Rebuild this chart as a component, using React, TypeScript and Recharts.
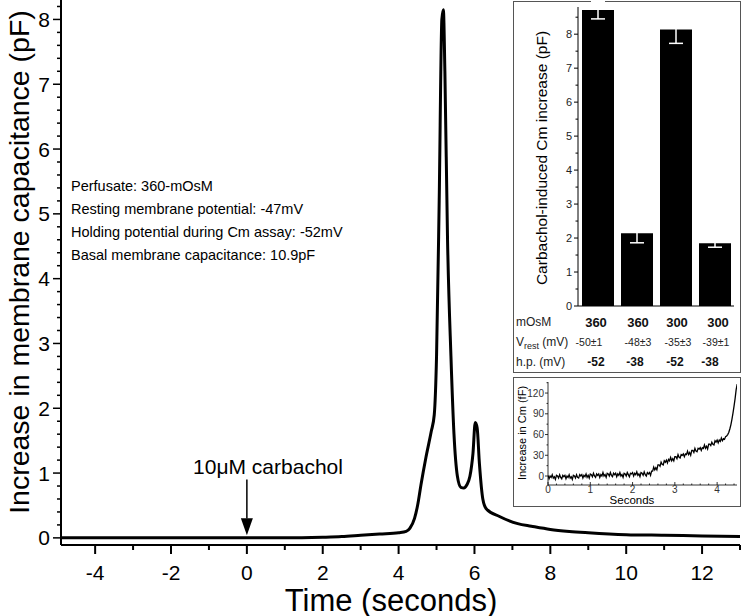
import { LineChart, Line, XAxis, YAxis, ReferenceLine, ReferenceDot, BarChart, Bar, ErrorBar } from 'recharts';

const FONT = 'Arial, "Liberation Sans", Helvetica, sans-serif';

// main trace: time (s) vs increase in membrane capacitance (pF)
const traceTime = [-4.9, -4, -3, -2, -1, 0, 1, 2, 2.5, 3, 3.5, 4, 4.2, 4.3, 4.42, 4.5, 4.59, 4.72, 4.86, 4.94, 5.0, 5.07, 5.14, 5.18, 5.22, 5.29, 5.38, 5.46, 5.55, 5.64, 5.72, 5.8, 5.88, 5.96, 6.02, 6.07, 6.13, 6.22, 6.31, 6.66, 7.14, 7.5, 8, 8.5, 9, 10, 11, 12, 13];
const traceCm = [0, 0, 0, 0, 0, 0, 0, 0.01, 0.02, 0.04, 0.06, 0.08, 0.1, 0.15, 0.3, 0.5, 0.82, 1.24, 1.64, 1.9, 2.8, 5.2, 8.0, 8.15, 7.2, 4.6, 2.8, 1.6, 0.95, 0.78, 0.77, 0.82, 0.95, 1.3, 1.78, 1.7, 1.15, 0.6, 0.45, 0.33, 0.22, 0.18, 0.13, 0.1, 0.08, 0.05, 0.04, 0.03, 0.02];

const mainXTicks = [-4, -3, -2, -1, 0, 1, 2, 3, 4, 5, 6, 7, 8, 9, 10, 11, 12, 13];
const mainYTicks = [0, 0.2, 0.4, 0.6, 0.8, 1, 1.2, 1.4, 1.6, 1.8, 2, 2.2, 2.4, 2.6, 2.8, 3, 3.2, 3.4, 3.6, 3.8, 4, 4.2, 4.4, 4.6, 4.8, 5, 5.2, 5.4, 5.6, 5.8, 6, 6.2, 6.4, 6.6, 6.8, 7, 7.2, 7.4, 7.6, 7.8, 8, 8.2];

const infoLines = [
  'Perfusate: 360-mOsM',
  'Resting membrane potential: -47mV',
  'Holding potential during Cm assay: -52mV',
  'Basal membrane capacitance: 10.9pF',
];

// inset bar chart
const barGroups = ['360/-52', '360/-38', '300/-52', '300/-38'];
const barValues = [8.71, 2.14, 8.14, 1.85];
const barErrors = [0.26, 0.28, 0.41, 0.12];
const osmLabels = ['360', '360', '300', '300'];
const vrestLabels = ['-50\u00b11', '-48\u00b13', '-35\u00b13', '-39\u00b11'];
const hpLabels = ['-52', '-38', '-52', '-38'];
const barYTicks = [0, 0.5, 1, 1.5, 2, 2.5, 3, 3.5, 4, 4.5, 5, 5.5, 6, 6.5, 7, 7.5, 8, 8.5];

// inset trace: first seconds after carbachol, fF
const insetStep = 0.025;
const insetCm = [
  1, -4, 0, -2, 2, -3, -1, -5, 1, 0, -3, 2, -2, -4, 1, -1, 1, -4, 0, -2, 2, -3, -1, -5, 1, 0, -3, 2, -2,
  -3, 2, 0, 2, -3, 1, -1, 3, -2, 1, -3, 3, 2, -1, 4, 0, -2, 3, 1, 3, -2, 2, 0, 5, 0, 2, -2, 4, 3, 0, 5, 1,
  -1, 4, 2, 4, -1, 3, 1, 5, 0, 2, -2, 4, 3, 0, 5, 2, -1, 4, 3, 5, 0, 4, 2, 6, 1, 3, -1, 5, 4, 1, 6, 2, 0, 5, 3, 5,
  1, 7, 7, 13, 9, 12, 9, 16, 16, 14, 20, 17, 16, 22, 20, 23, 19, 24, 22, 27, 22, 25, 22, 28,
  28, 25, 31, 27, 26, 31, 30, 32,
  28, 32, 31, 36, 31, 34, 30, 37,
  37, 34, 40, 36, 35, 40, 39, 41,
  37, 41, 40, 45, 40, 43, 39, 46,
  46, 44, 49, 46, 45, 51, 49, 52,
  48, 52, 50, 55, 51, 54, 53, 57, 58,
  60, 63, 68, 74, 82, 91, 101, 112, 125, 133,
];
const insetXTicks = [0, 0.2, 0.4, 0.6, 0.8, 1, 1.2, 1.4, 1.6, 1.8, 2, 2.2, 2.4, 2.6, 2.8, 3, 3.2, 3.4, 3.6, 3.8, 4, 4.2, 4.4];
const insetYTicks = [0, 15, 30, 45, 60, 75, 90, 105, 120, 135];

const traceData = traceTime.map((t, i) => ({ t, cm: traceCm[i] }));
const barData = barGroups.map((g, i) => ({ group: g, value: barValues[i], err: barErrors[i] }));
const insetData = insetCm.map((v, i) => ({ t: i * insetStep, v }));

const isWhole = (v: number) => Math.abs(v - Math.round(v)) < 1e-6;

const MainXTick = (p: any) => {
  const major = isWhole(p.payload.value / 2);
  return (
    <g>
      <line x1={p.x} x2={p.x} y1={p.y} y2={p.y + (major ? 9 : 5)} stroke="#000" strokeWidth={2} />
      {major && (
        <text x={p.x} y={p.y + 35} textAnchor="middle" fontSize={21} fontFamily={FONT} fill="#000">
          {p.payload.value}
        </text>
      )}
    </g>
  );
};

const MainYTick = (p: any) => {
  const major = isWhole(p.payload.value);
  return (
    <g>
      <line x1={p.x - (major ? 8 : 4)} x2={p.x} y1={p.y} y2={p.y} stroke="#000" strokeWidth={1.5} />
      {major && (
        <text x={p.x - 11} y={p.y} dy="0.36em" textAnchor="end" fontSize={21} fontFamily={FONT} fill="#000">
          {p.payload.value}
        </text>
      )}
    </g>
  );
};

const BarYTick = (p: any) => {
  const major = isWhole(p.payload.value);
  return (
    <g>
      <line x1={p.x - (major ? 4 : 2.5)} x2={p.x} y1={p.y} y2={p.y} stroke="#000" strokeWidth={1} />
      {major && (
        <text x={p.x - 6} y={p.y} dy="0.36em" textAnchor="end" fontSize={11} fontFamily={FONT} fill="#222">
          {p.payload.value}
        </text>
      )}
    </g>
  );
};

const InsetXTick = (p: any) => {
  const major = isWhole(p.payload.value);
  return (
    <g>
      <line x1={p.x} x2={p.x} y1={p.y} y2={p.y - (major ? 3 : 1.5)} stroke="#000" strokeWidth={0.8} />
      {major && (
        <text x={p.x} y={p.y + 8} textAnchor="middle" fontSize={10} fontFamily={FONT} fill="#333">
          {p.payload.value}
        </text>
      )}
    </g>
  );
};

const InsetYTick = (p: any) => {
  const major = p.payload.value % 30 === 0;
  return (
    <g>
      <line x1={p.x - (major ? 3 : 1.5)} x2={p.x} y1={p.y} y2={p.y} stroke="#000" strokeWidth={0.8} />
      {major && (
        <text x={p.x - 4} y={p.y} dy="0.36em" textAnchor="end" fontSize={10} fontFamily={FONT} fill="#333">
          {p.payload.value}
        </text>
      )}
    </g>
  );
};

const ArrowHead = (p: any) => (
  <path d={`M${p.cx},${p.cy} L${p.cx - 6},${p.cy - 17} L${p.cx + 6},${p.cy - 17} Z`} fill="#000" />
);

const Txt = ({ x, y, size, anchor = 'start', bold = false, color = '#000', children }: any) => {
  const tx = anchor === 'middle' ? '-50%' : anchor === 'end' ? '-100%' : '0';
  return (
    <div
      style={{
        position: 'absolute',
        left: x,
        top: y,
        transform: `translate(${tx}, -50%)`,
        fontSize: size,
        fontWeight: bold ? 'bold' : 'normal',
        color,
        lineHeight: 1,
        whiteSpace: 'nowrap',
      }}
    >
      {children}
    </div>
  );
};

const VTxt = ({ x, y, size, children }: any) => (
  <div
    style={{
      position: 'absolute',
      left: x,
      top: y,
      transform: 'translate(-50%, -50%) rotate(-90deg)',
      fontSize: size,
      lineHeight: 1,
      whiteSpace: 'nowrap',
      color: '#000',
    }}
  >
    {children}
  </div>
);

const boxStyle = (left: number, top: number, width: number, height: number): any => ({
  position: 'absolute',
  left,
  top,
  width,
  height,
  border: '1.5px solid #555',
  boxSizing: 'border-box',
  background: '#fff',
});

export default function App() {
  const cols = [596, 638, 677, 718];
  return (
    <div style={{ position: 'absolute', left: 0, top: 0, width: 742, height: 616, background: '#fff', fontFamily: FONT, overflow: 'hidden' }}>
      <LineChart width={742} height={616} data={traceData} margin={{ top: 0, right: 2, bottom: 0, left: 0 }}>
        <XAxis
          type="number"
          dataKey="t"
          domain={[-4.9, 13]}
          allowDataOverflow
          ticks={mainXTicks}
          interval={0}
          tickSize={0}
          tickMargin={0}
          tick={(p: any) => <MainXTick {...p} />}
          height={71}
          axisLine={{ stroke: '#000', strokeWidth: 2 }}
        />
        <YAxis
          type="number"
          domain={[-0.11, 8.3]}
          allowDataOverflow
          ticks={mainYTicks}
          interval={0}
          tickSize={0}
          tickMargin={0}
          tick={(p: any) => <MainYTick {...p} />}
          width={61}
          axisLine={{ stroke: '#000', strokeWidth: 2 }}
        />
        <Line dataKey="cm" type="monotone" stroke="#000" strokeWidth={3} dot={false} isAnimationActive={false} />
        <ReferenceLine segment={[{ x: 0, y: 0.9 }, { x: 0, y: 0.3 }]} stroke="#000" strokeWidth={1.5} />
        <ReferenceDot x={0} y={0.04} r={6} shape={ArrowHead} />
      </LineChart>

      <VTxt x={19} y={262} size={28.5}>Increase in membrane capacitance (pF)</VTxt>
      <Txt x={391} y={600} size={31} anchor="middle">Time (seconds)</Txt>
      <Txt x={268} y={466} size={21} anchor="middle">10μM carbachol</Txt>
      {infoLines.map((s, i) => (
        <Txt key={s} x={71} y={186 + i * 23} size={14.5}>{s}</Txt>
      ))}

      {/* bar chart inset */}
      <div style={boxStyle(513, 1, 228, 372)} />
      <div style={{ position: 'absolute', left: 513, top: 1 }}>
        <BarChart width={228} height={372} data={barData} margin={{ top: 6, right: 7, bottom: 0, left: 0 }} barSize={32}>
          <XAxis dataKey="group" tick={false} tickLine={false} height={67} axisLine={{ stroke: '#000' }} />
          <YAxis
            type="number"
            domain={[0, 8.8]}
            allowDataOverflow
            ticks={barYTicks}
            interval={0}
            tickSize={0}
            tickMargin={0}
            tick={(p: any) => <BarYTick {...p} />}
            width={65}
            axisLine={{ stroke: '#000' }}
          />
          <Bar dataKey="value" fill="#000" isAnimationActive={false}>
            <ErrorBar dataKey="err" stroke="#fff" strokeWidth={1.5} width={7} direction="y" isAnimationActive={false} />
          </Bar>
        </BarChart>
      </div>
      <VTxt x={542} y={158} size={15.5}>Carbachol-induced Cm increase (pF)</VTxt>
      <Txt x={516} y={322} size={12} color="#222">mOsM</Txt>
      <Txt x={516} y={342} size={12} color="#222">
        V<sub style={{ fontSize: 9, verticalAlign: 'baseline', position: 'relative', top: 3 }}>rest</sub> (mV)
      </Txt>
      <Txt x={516} y={362} size={12} color="#222">h.p. (mV)</Txt>
      {osmLabels.map((s, i) => (
        <Txt key={'o' + i} x={cols[i]} y={322} size={13} bold anchor="middle" color="#111">{s}</Txt>
      ))}
      {vrestLabels.map((s, i) => (
        <Txt key={'v' + i} x={[589, 638, 678, 716][i]} y={342} size={10.5} anchor="middle" color="#222">{s}</Txt>
      ))}
      {hpLabels.map((s, i) => (
        <Txt key={'h' + i} x={[596, 635, 675, 710][i]} y={362} size={12} bold anchor="middle" color="#111">{s}</Txt>
      ))}

      {/* early-phase inset */}
      <div style={boxStyle(513, 377, 228, 130)} />
      <div style={{ position: 'absolute', left: 513, top: 377 }}>
        <LineChart width={228} height={130} data={insetData} margin={{ top: 5, right: 4, bottom: 0, left: 0 }}>
          <XAxis
            type="number"
            dataKey="t"
            domain={[0, 4.47]}
            allowDataOverflow
            ticks={insetXTicks}
            interval={0}
            tickSize={0}
            tickMargin={0}
            tick={(p: any) => <InsetXTick {...p} />}
            height={22}
            axisLine={{ stroke: '#000', strokeWidth: 0.8 }}
          />
          <YAxis
            type="number"
            domain={[-13, 136]}
            allowDataOverflow
            ticks={insetYTicks}
            interval={0}
            tickSize={0}
            tickMargin={0}
            tick={(p: any) => <InsetYTick {...p} />}
            width={35}
            axisLine={{ stroke: '#000', strokeWidth: 0.8 }}
          />
          <Line dataKey="v" type="linear" stroke="#000" strokeWidth={1.3} dot={false} isAnimationActive={false} />
        </LineChart>
      </div>
      <VTxt x={522} y={433} size={11}>Increase in Cm (fF)</VTxt>
      <Txt x={632} y={501} size={11.5} anchor="middle">Seconds</Txt>
    </div>
  );
}
